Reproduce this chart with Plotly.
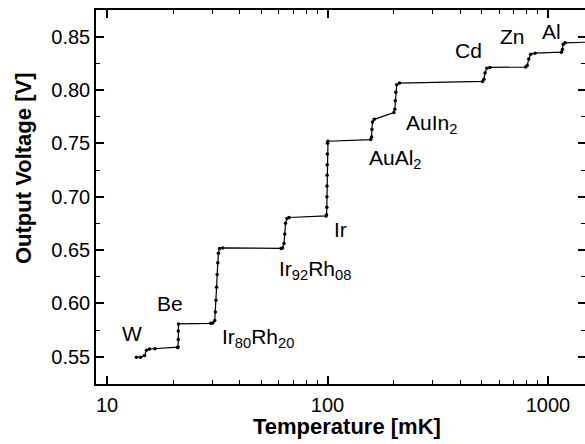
import math
import plotly.graph_objects as go

# ---- data ----
temperature_mK = [13.6, 14.2, 14.8, 15.1, 15.6, 16.5, 20.9,
                  21.0, 21.05, 21.05, 21.1,
                  29.5, 30.2, 30.8, 31.0, 31.2, 31.4, 31.6, 31.8, 32.0, 32.4, 33.5,
                  61.5, 62.5, 63.5, 64.0, 64.5, 65.5, 67.0,
                  98.5, 99.0, 99.3, 99.4, 99.5, 99.6, 99.7, 99.8, 100.0, 100.5,
                  157.0, 158.5, 159.0, 160.0, 163.0,
                  200.0, 202.0, 203.0, 204.0, 206.0, 212.0,
                  505.0, 512.0, 518.0, 528.0, 545.0,
                  792.0, 805.0, 818.0, 835.0, 873.0,
                  1150.0, 1162.0, 1172.0, 1195.0, 1500.0]
voltage_V = [0.5494, 0.5495, 0.5510, 0.5560, 0.5572, 0.5575, 0.5585,
             0.5590, 0.5660, 0.5740, 0.5807,
             0.5813, 0.5815, 0.5840, 0.5920, 0.6030, 0.6150, 0.6270, 0.6380, 0.6470, 0.6515, 0.6520,
             0.6515, 0.6520, 0.6560, 0.6650, 0.6750, 0.6795, 0.6805,
             0.6820, 0.6830, 0.6900, 0.7000, 0.7100, 0.7200, 0.7300, 0.7400, 0.7500, 0.7520,
             0.7535, 0.7560, 0.7630, 0.7700, 0.7725,
             0.7789, 0.7820, 0.7900, 0.7980, 0.8050, 0.8065,
             0.8080, 0.8100, 0.8160, 0.8205, 0.8212,
             0.8215, 0.8230, 0.8290, 0.8336, 0.8345,
             0.8355, 0.8380, 0.8430, 0.8442, 0.8448]

labels = ["W", "Be", "Ir<sub>80</sub>Rh<sub>20</sub>", "Ir<sub>92</sub>Rh<sub>08</sub>", "Ir",
          "AuAl<sub>2</sub>", "AuIn<sub>2</sub>", "Cd", "Zn", "Al"]
label_T = [11.46, 16.5, 32.5, 58.9, 104.5, 150.7, 222.8, 372.0, 595.0, 920.0]
label_V = [0.5713, 0.5994, 0.5675, 0.6313, 0.6689, 0.7355, 0.7683, 0.8368, 0.8500, 0.8550]

y_ticks = [0.55, 0.60, 0.65, 0.70, 0.75, 0.80, 0.85]
x_ticks = [10, 100, 1000]
x_minor = [20, 30, 40, 50, 60, 70, 80, 90, 200, 300, 400, 500, 600, 700, 800, 900]

FONT = "Liberation Sans, Arial, sans-serif"
x_range = [0.9501, 3.1678]
y_range = [0.5244, 0.875]

fig = go.Figure()
fig.add_trace(go.Scatter(
    x=temperature_mK, y=voltage_V, mode="lines+markers",
    line=dict(color="black", width=1.2),
    marker=dict(color="black", size=3.5),
    showlegend=False, hoverinfo="skip"))
# invisible helper trace for the right-hand tick axis
fig.add_trace(go.Scatter(x=[temperature_mK[0]], y=[voltage_V[0]], yaxis="y2",
                         mode="markers", marker=dict(opacity=0),
                         showlegend=False, hoverinfo="skip"))

for txt, t, v in zip(labels, label_T, label_V):
    fig.add_annotation(x=math.log10(t), y=v, xref="x", yref="y", text=txt,
                       showarrow=False, xanchor="left", yanchor="middle",
                       font=dict(family=FONT, size=21, color="black"))

fig.add_annotation(x=0.5123, y=-0.1123, xref="paper", yref="paper",
                   text="<b>Temperature [mK]</b>", showarrow=False,
                   xanchor="center", yanchor="middle",
                   font=dict(family=FONT, size=22, color="black"))
fig.add_annotation(x=-0.1472, y=0.5749, xref="paper", yref="paper",
                   text="<b>Output Voltage [V]</b>", showarrow=False, textangle=-90,
                   xanchor="center", yanchor="middle",
                   font=dict(family=FONT, size=22, color="black"))

fig.update_layout(
    width=585, height=444,
    margin=dict(l=96, r=0, t=10, b=60),
    paper_bgcolor="white", plot_bgcolor="white",
    font=dict(family=FONT, size=20, color="black"),
    xaxis=dict(type="log", range=x_range, tickvals=x_ticks,
               ticktext=[str(v) for v in x_ticks],
               ticks="inside", ticklen=8, tickwidth=1.5, tickcolor="black",
               minor=dict(tickvals=x_minor, ticks="inside", ticklen=4,
                          tickwidth=1.2, tickcolor="black"),
               showline=True, linecolor="black", linewidth=1.5, mirror="ticks",
               showgrid=False, zeroline=False, ticklabelstandoff=2),
    yaxis=dict(range=y_range, tickvals=y_ticks,
               ticktext=[f"{v:.2f}" for v in y_ticks],
               ticks="inside", ticklen=8, tickwidth=1.5, tickcolor="black",
               minor=dict(dtick=0.025, tick0=0.525, ticks="inside", ticklen=4,
                          tickwidth=1.2, tickcolor="black"),
               showline=True, linecolor="black", linewidth=1.5, mirror=False,
               showgrid=False, zeroline=False, ticklabelstandoff=0),
    yaxis2=dict(range=y_range, overlaying="y", side="right", anchor="x",
                tickvals=y_ticks, showticklabels=False,
                ticks="inside", ticklen=7, tickwidth=1.5, tickcolor="black",
                minor=dict(dtick=0.025, tick0=0.525, ticks="inside", ticklen=4,
                           tickwidth=1.2, tickcolor="black"),
                showline=False, linewidth=0, linecolor="rgba(0,0,0,0)",
                showgrid=False, zeroline=False),
)

fig.write_html("out.html", config={"displayModeBar": False},
               post_script="document.body.style.margin='0';document.body.style.overflow='hidden';")
